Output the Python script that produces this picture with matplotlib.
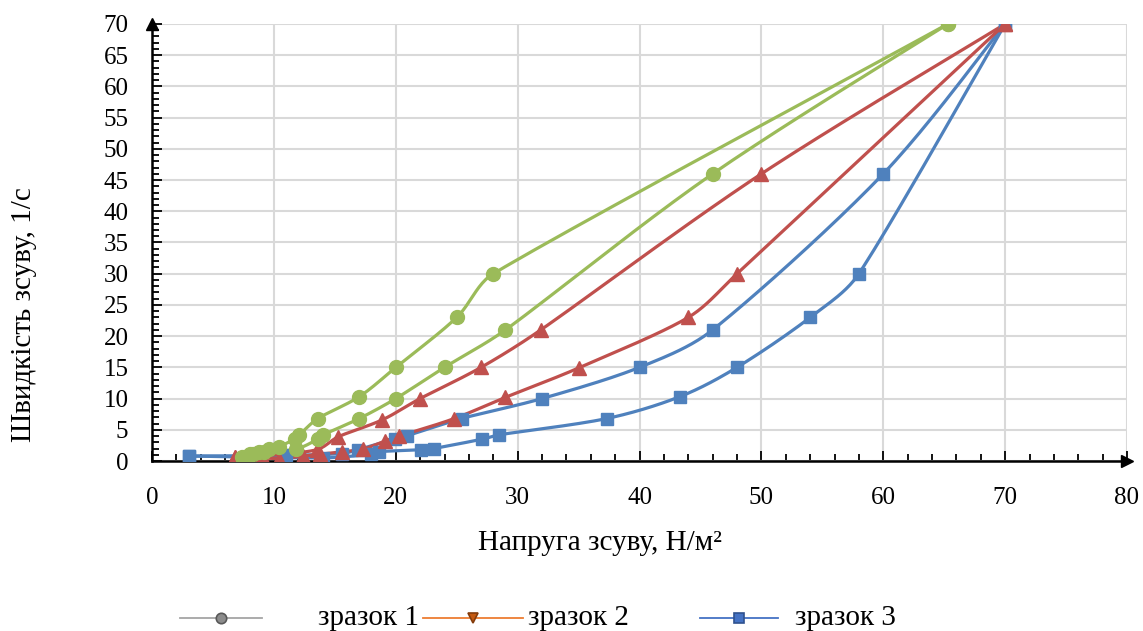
import numpy as np
import matplotlib.pyplot as plt
from matplotlib.lines import Line2D

plt.rcParams['font.family'] = ['Liberation Serif', 'DejaVu Serif']

# зразок 1 (green circles): ascending branch, descending branch
s1_up_x = [7.6, 8.3, 9.2, 11.8, 13.6, 14.05, 17.0, 20.0, 24.0, 29.0, 46.0, 65.3]
s1_up_y = [0.7, 1.1, 1.5, 1.9, 3.5, 4.2, 6.8, 10.0, 15.0, 21.0, 46.0, 70.0]
s1_dn_x = [65.3, 28.0, 25.0, 20.0, 17.0, 13.6, 12.1, 11.7, 10.4, 9.6, 8.8, 8.0, 7.4]
s1_dn_y = [70.0, 30.0, 23.0, 15.0, 10.3, 6.8, 4.2, 3.5, 2.3, 1.9, 1.5, 1.1, 0.7]

# зразок 2 (red triangles)
s2_up_x = [6.8, 10.4, 12.4, 13.8, 15.6, 17.3, 19.1, 20.3, 24.8, 29.0, 35.0, 44.0, 48.0, 70.0]
s2_up_y = [0.7, 0.4, 0.8, 1.1, 1.5, 1.9, 3.2, 4.0, 6.8, 10.2, 14.9, 23.0, 30.0, 70.0]
s2_dn_x = [70.0, 50.0, 31.9, 27.0, 22.0, 18.9, 15.3, 13.5, 9.0, 6.8]
s2_dn_y = [70.0, 46.0, 21.0, 15.0, 10.0, 6.6, 3.9, 1.8, 0.8, 0.7]

# зразок 3 (blue squares)
s3_up_x = [3.0, 14.0, 18.0, 18.6, 22.1, 23.1, 27.1, 28.5, 37.3, 43.3, 48.0, 54.0, 58.0, 70.0]
s3_up_y = [0.8, 0.5, 1.1, 1.5, 1.8, 2.0, 3.5, 4.2, 6.8, 10.3, 15.0, 23.0, 30.0, 70.0]
s3_dn_x = [70.0, 60.0, 46.0, 40.0, 32.0, 25.4, 20.9, 19.9, 16.9, 15.6, 11.0, 3.0]
s3_dn_y = [70.0, 46.0, 21.0, 15.0, 10.0, 6.8, 4.0, 3.5, 1.8, 1.2, 0.9, 0.8]

legend_labels = ['зразок 1', 'зразок 2', 'зразок 3']

GREEN = '#9BBB59'
RED = '#C0504D'
BLUE = '#4F81BD'

# pixel per data unit, so smoothing works in screen-like space
SX, SY = 12.19, 6.243


def cap(v, lim):
    n = np.hypot(*v)
    return v if n <= lim or n == 0 else v * lim / n


def smooth(xs, ys, n=24):
    # catmull-rom / bezier smoothing like excel "smoothed line",
    # handles capped to a third of the segment so long neighbours don't overshoot
    p = np.column_stack([np.asarray(xs) * SX, np.asarray(ys) * SY])
    out = [p[0]]
    for i in range(len(p) - 1):
        p0 = p[i - 1] if i > 0 else p[i]
        p1 = p[i]
        p2 = p[i + 1]
        p3 = p[i + 2] if i + 2 < len(p) else p[i + 1]
        seg_len = np.hypot(*(p2 - p1))
        c1 = p1 + cap((p2 - p0) / 6, seg_len / 3)
        c2 = p2 - cap((p3 - p1) / 6, seg_len / 3)
        t = np.linspace(0, 1, n)[1:, None]
        seg = ((1 - t) ** 3) * p1 + 3 * ((1 - t) ** 2) * t * c1 + 3 * (1 - t) * t ** 2 * c2 + t ** 3 * p2
        out.extend(seg)
    out = np.array(out)
    return out[:, 0] / SX, out[:, 1] / SY


fig = plt.figure(figsize=(11.43, 6.31), dpi=100)
ax = fig.add_axes([0.133, 0.2694, 0.853, 0.6926])

series = [
    (s3_up_x, s3_up_y, s3_dn_x, s3_dn_y, BLUE, 's', 9),
    (s2_up_x, s2_up_y, s2_dn_x, s2_dn_y, RED, '^', 10),
    (s1_up_x, s1_up_y, s1_dn_x, s1_dn_y, GREEN, 'o', 10),
]
for ux, uy, dx, dy, col, mk, ms in series:
    for bx, by in [(ux, uy), (dx, dy)]:
        lx, ly = smooth(bx, by)
        ax.plot(lx, ly, color=col, lw=2.3, solid_capstyle='round', zorder=3)
        ax.plot(bx, by, linestyle='none', marker=mk, ms=ms, color=col, zorder=4)

ax.set_xlim(0, 80)
ax.set_ylim(0, 70)
ax.set_xticks(np.arange(0, 81, 10))
ax.set_yticks(np.arange(0, 71, 5))
ax.set_xticks(np.arange(0, 81, 2), minor=True)
ax.set_yticks(np.arange(0, 71, 1), minor=True)
ax.grid(True, which='major', color='#d9d9d9', lw=1.5, zorder=0)
ax.set_axisbelow(True)

for s in ['top', 'right']:
    ax.spines[s].set_visible(False)
for s in ['left', 'bottom']:
    ax.spines[s].set_linewidth(1.8)
ax.tick_params(which='both', direction='in', width=1.3, labelsize=18)
ax.tick_params(which='major', length=7)
ax.tick_params(which='minor', length=5)
ax.tick_params(axis='x', pad=19)
ax.tick_params(axis='y', pad=17)

# arrow heads on axes
ax.plot(1, 0, '>k', ms=9, transform=ax.transAxes, clip_on=False, zorder=5)
ax.plot(0, 1, '^k', ms=9, transform=ax.transAxes, clip_on=False, zorder=5)

ax.set_xlabel('Напруга зсуву, Н/м²', fontsize=21)
ax.set_ylabel('Швидкість зсуву, 1/с', fontsize=21)
ax.xaxis.set_label_coords(0.4595, -0.158)
ax.yaxis.set_label_coords(-0.118, 0.336)

# legend drawn by hand (styles differ from the plotted series)
leg_y = 1 - 618 / 631
W = 1143
handles = [
    ((180, 262), '#a5a5a5', 'o', '#8c8c8c', '#595959', 318),
    ((423, 523), '#ED7D31', 'v', '#C55A11', '#843C0C', 528),
    ((700, 778), '#4472C4', 's', '#4472C4', '#2F528F', 795),
]
for (x0, x1), lc, mk, fc, ec, tx in handles:
    fig.add_artist(Line2D([x0 / W, x1 / W], [leg_y, leg_y], color=lc, lw=1.3,
                          transform=fig.transFigure))
    fig.add_artist(Line2D([(x0 + x1) / 2 / W], [leg_y], marker=mk, ms=7.5, mfc=fc, mec=ec,
                          mew=1.2, linestyle='none', transform=fig.transFigure))
for lab, h in zip(legend_labels, handles):
    fig.text(h[5] / W, leg_y, lab, fontsize=21, va='center', ha='left')

fig.savefig('out.png', dpi=100)
